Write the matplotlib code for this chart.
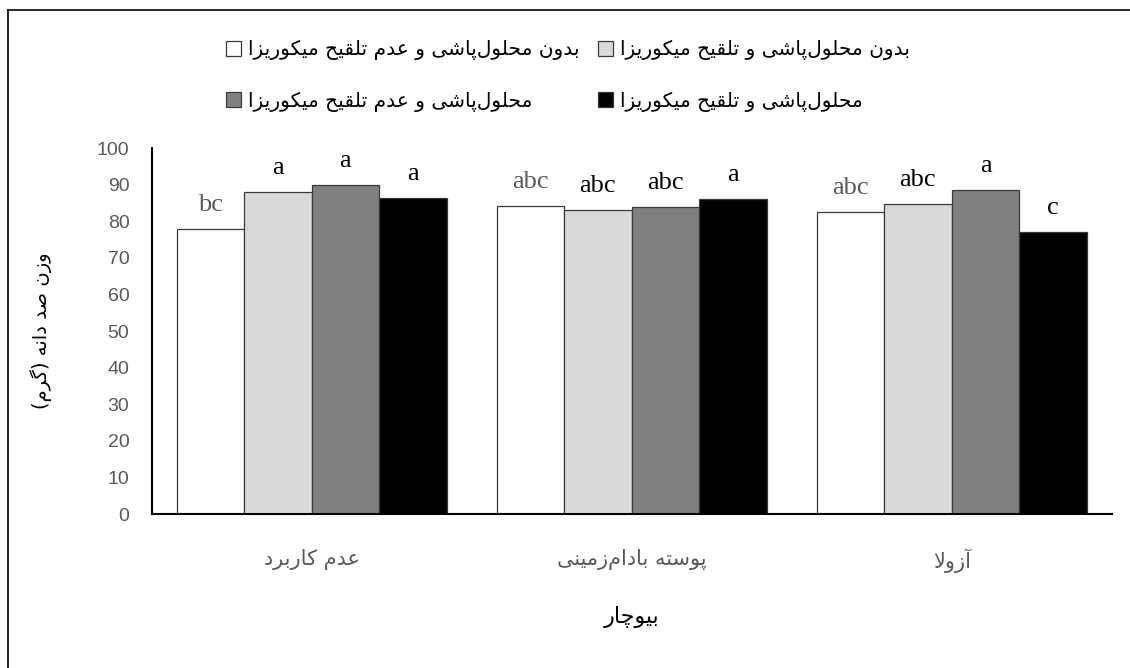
import matplotlib.pyplot as plt
import numpy as np
from matplotlib.lines import Line2D

# Persian text helper: matplotlib does no Arabic-script shaping, so pick the
# contextual presentation forms by hand and lay the string out right-to-left.
FORMS = {
    'ا': ('\uFE8D', '\uFE8E', None, None),
    'آ': ('\uFE81', '\uFE82', None, None),
    'ب': ('\uFE8F', '\uFE90', '\uFE91', '\uFE92'),
    'پ': ('\uFB56', '\uFB57', '\uFB58', '\uFB59'),
    'ت': ('\uFE95', '\uFE96', '\uFE97', '\uFE98'),
    'چ': ('\uFB7A', '\uFB7B', '\uFB7C', '\uFB7D'),
    'ح': ('\uFEA1', '\uFEA2', '\uFEA3', '\uFEA4'),
    'د': ('\uFEA9', '\uFEAA', None, None),
    'ر': ('\uFEAD', '\uFEAE', None, None),
    'ز': ('\uFEAF', '\uFEB0', None, None),
    'س': ('\uFEB1', '\uFEB2', '\uFEB3', '\uFEB4'),
    'ش': ('\uFEB5', '\uFEB6', '\uFEB7', '\uFEB8'),
    'ص': ('\uFEB9', '\uFEBA', '\uFEBB', '\uFEBC'),
    'ع': ('\uFEC9', '\uFECA', '\uFECB', '\uFECC'),
    'ق': ('\uFED5', '\uFED6', '\uFED7', '\uFED8'),
    'ک': ('\uFB8E', '\uFB8F', '\uFB90', '\uFB91'),
    'گ': ('\uFB92', '\uFB93', '\uFB94', '\uFB95'),
    'ل': ('\uFEDD', '\uFEDE', '\uFEDF', '\uFEE0'),
    'م': ('\uFEE1', '\uFEE2', '\uFEE3', '\uFEE4'),
    'ن': ('\uFEE5', '\uFEE6', '\uFEE7', '\uFEE8'),
    'ه': ('\uFEE9', '\uFEEA', '\uFEEB', '\uFEEC'),
    'و': ('\uFEED', '\uFEEE', None, None),
    'ی': ('\uFBFC', '\uFBFD', '\uFBFE', '\uFBFF'),
}
RIGHT_ONLY = set('اآدرزو')
LAM_ALEF = {'ا': ('\uFEFB', '\uFEFC'), 'آ': ('\uFEF5', '\uFEF6')}


def fa(text):
    chars = list(text.replace('\u064A', 'ی').replace('\u0643', 'ک'))
    out = []
    i = 0
    while i < len(chars):
        c = chars[i]
        if c not in FORMS:
            out.append(c)
            i += 1
            continue
        prev = chars[i - 1] if i > 0 else None
        joined_prev = prev in FORMS and prev not in RIGHT_ONLY
        if c == 'ل' and i + 1 < len(chars) and chars[i + 1] in LAM_ALEF:
            out.append(LAM_ALEF[chars[i + 1]][1 if joined_prev else 0])
            i += 2
            continue
        nxt = chars[i + 1] if i + 1 < len(chars) else None
        joined_next = c not in RIGHT_ONLY and nxt in FORMS
        iso, fin, ini, med = FORMS[c]
        if joined_prev and joined_next:
            out.append(med)
        elif joined_prev:
            out.append(fin)
        elif joined_next:
            out.append(ini)
        else:
            out.append(iso)
        i += 1
    vis = ''.join(out).replace('\u200c', '')[::-1]
    return vis.translate(str.maketrans('()', ')('))


# Data
biochar = ["عدم کاربرد", "پوسته بادام\u200cزمینی", "آزولا"]
treatments = [
    "بدون محلول\u200cپاشی و عدم تلقیح میکوریزا",
    "بدون محلول\u200cپاشی و تلقیح میکوریزا",
    "محلول\u200cپاشی و عدم تلقیح میکوریزا",
    "محلول\u200cپاشی و تلقیح میکوریزا",
]
no_spray_no_myco = [77.8, 84.2, 82.6]
no_spray_myco = [88.1, 83.1, 84.6]
spray_no_myco = [89.9, 83.8, 88.5]
spray_myco = [86.4, 86.1, 77.1]
letters = [
    ["bc", "abc", "abc"],
    ["a", "abc", "abc"],
    ["a", "abc", "a"],
    ["a", "a", "c"],
]
y_label = "وزن صد دانه (گرم)"
x_label = "بیوچار"

series = [no_spray_no_myco, no_spray_myco, spray_no_myco, spray_myco]
fills = ["#FFFFFF", "#D9D9D9", "#808080", "#000000"]
letter_colors = ["#595959", "black", "black", "black"]

fig = plt.figure(figsize=(11.3, 6.68), dpi=100)
ax = fig.add_axes([0.1342, 0.2305, 0.8496, 0.5479])

x = np.arange(len(biochar))
width = 0.211
bars = []
for i, vals in enumerate(series):
    b = ax.bar(x + (i - 1.5) * width, vals, width, color=fills[i],
               edgecolor="#3A3A3A", linewidth=0.9, label=fa(treatments[i]))
    bars.append(b)
    for rect, txt in zip(b, letters[i]):
        ax.annotate(txt, (rect.get_x() + rect.get_width() / 2, rect.get_height()),
                    xytext=(0, 13), textcoords="offset points", ha="center",
                    va="baseline", fontsize=19, family="Liberation Serif",
                    color=letter_colors[i])

ax.set_xlim(-0.5, len(biochar) - 0.5)
ax.set_ylim(0, 100)
ax.set_yticks(range(0, 101, 10))
ax.set_xticks(x)
ax.set_xticklabels([fa(s) for s in biochar], family="DejaVu Sans", fontsize=15,
                   color="#595959")
for lab in ax.get_yticklabels():
    lab.set_family("Liberation Sans")
ax.tick_params(axis="y", length=0, pad=16, labelsize=14, labelcolor="#595959")
ax.tick_params(axis="x", length=0, pad=25)

for s in ["top", "right"]:
    ax.spines[s].set_visible(False)
for s in ["left", "bottom"]:
    ax.spines[s].set_linewidth(1.5)
    ax.spines[s].set_color("black")

ax.set_ylabel(fa(y_label), family="DejaVu Sans", fontsize=14, labelpad=32)
ax.set_xlabel(fa(x_label), family="DejaVu Sans", fontsize=16, labelpad=24)

# Legend: two rows, swatch left of each label
order = [0, 2, 1, 3]
fig.legend([bars[k] for k in order], [fa(treatments[k]) for k in order],
           ncol=2, loc="upper left", bbox_to_anchor=(226 / 1130, 1 - 40 / 668),
           frameon=False, prop={"family": "DejaVu Sans", "size": 14.5},
           handlelength=0.75, handleheight=0.75, handletextpad=0.35,
           columnspacing=0.9, labelspacing=1.55, borderpad=0, borderaxespad=0)

# Outer frame (top and left edges)
frame_kw = dict(transform=fig.transFigure, color="black", linewidth=1.2)
fig.add_artist(Line2D([8 / 1130, 1], [1 - 10 / 668, 1 - 10 / 668], **frame_kw))
fig.add_artist(Line2D([8 / 1130, 8 / 1130], [0, 1 - 10 / 668], **frame_kw))

fig.savefig("out.png", dpi=100)
